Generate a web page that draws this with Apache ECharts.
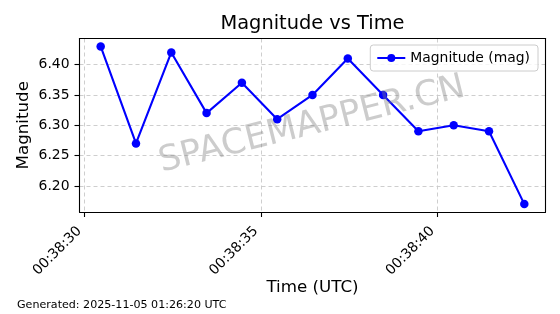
<!DOCTYPE html>
<html>
<head>
<meta charset="utf-8">
<script src="https://cdn.jsdelivr.net/npm/echarts@6/dist/echarts.min.js"></script>
<style>
html,body{margin:0;padding:0;background:#fff;}
#chart{width:560px;height:314px;}
</style>
</head>
<body>
<div id="chart"></div>
<script>
// Data
var times = ['00:38:30.46','00:38:31.46','00:38:32.46','00:38:33.46','00:38:34.46','00:38:35.46','00:38:36.46',
             '00:38:37.46','00:38:38.46','00:38:39.46','00:38:40.46','00:38:41.46','00:38:42.46'];
var magnitudes = [6.43, 6.27, 6.42, 6.32, 6.37, 6.31, 6.35, 6.41, 6.35, 6.29, 6.30, 6.29, 6.17];
var yTickLabels = ['6.20','6.25','6.30','6.35','6.40'];
var xTickLabels = ['00:38:30','00:38:35','00:38:40'];
var seriesName = 'Magnitude (mag)';
var titleText = 'Magnitude vs Time';
var footerText = 'Generated: 2025-11-05 01:26:20 UTC';
var watermark = 'SPACEMAPPER.CN';

function toSec(s){var p=s.split(':');return (+p[0])*3600+(+p[1])*60+parseFloat(p[2]);}
function fmt(v){v=Math.round(v);var h=Math.floor(v/3600),m=Math.floor((v%3600)/60),s=v%60;
  function z(n){return (n<10?'0':'')+n;} return z(h)+':'+z(m)+':'+z(s);}

var xs = times.map(toSec);
var data = xs.map(function(x,i){return [x, magnitudes[i]];});
var xMin = xs[0], xMax = xs[xs.length-1], xr = xMax-xMin;
var yMin = Math.min.apply(null,magnitudes), yMax = Math.max.apply(null,magnitudes), yr=yMax-yMin;

var FONT = 'DejaVu Sans';
var frameAxis = {axisLine:{show:true,onZero:false,lineStyle:{color:'#000',width:1.1}},axisTick:{show:false},
  axisLabel:{show:false},splitLine:{show:false}};
var chart = echarts.init(document.getElementById('chart'), null, {renderer:'canvas'});
chart.setOption({
  animation:false,
  backgroundColor:'#fff',
  textStyle:{fontFamily:FONT},
  grid:{left:79.5,right:14.5,top:38.5,bottom:102,show:false,containLabel:false},
  legend:{show:true,right:22,top:45,orient:'vertical',itemWidth:28,itemHeight:10,itemGap:4,
    padding:[6,8,6,6],borderColor:'#cccccc',borderWidth:1,borderRadius:3,backgroundColor:'rgba(255,255,255,0.8)',
    textStyle:{fontFamily:FONT,fontSize:13.9,color:'#000'},data:[seriesName]},
  xAxis:[{type:'value',min:xMin-0.05*xr,max:xMax+0.05*xr,minInterval:5,maxInterval:5,
    axisLine:{show:true,onZero:false,lineStyle:{color:'#000',width:1.1}},
    axisTick:{show:true,length:5,lineStyle:{color:'#000',width:1.1}},
    axisLabel:{rotate:45,margin:12,padding:[0,7,0,0],fontSize:13.9,color:'#000',fontFamily:FONT,showMinLabel:false,showMaxLabel:false,
      formatter:function(v){return fmt(v);}},
    splitLine:{show:true,lineStyle:{color:'#c8c8c8',type:[4,3],width:0.9}},
    name:'Time (UTC)',nameLocation:'middle',nameGap:67,nameMoveOverlap:false,
    nameTextStyle:{fontFamily:FONT,fontSize:16.7,color:'#000'}},
    Object.assign({type:'value',position:'top',min:xMin-0.05*xr,max:xMax+0.05*xr},frameAxis)],
  yAxis:[{type:'value',min:yMin-0.05*yr,max:yMax+0.05*yr,minInterval:0.05,maxInterval:0.05,
    axisLine:{show:true,onZero:false,lineStyle:{color:'#000',width:1.1}},
    axisTick:{show:true,length:5,lineStyle:{color:'#000',width:1.1}},
    axisLabel:{margin:10,fontSize:13.9,color:'#000',fontFamily:FONT,showMinLabel:false,showMaxLabel:false,
      formatter:function(v){return v.toFixed(2);}},
    splitLine:{show:true,lineStyle:{color:'#c8c8c8',type:[4,3],width:0.9}},
    name:'Magnitude',nameLocation:'middle',nameGap:47,nameRotate:90,nameMoveOverlap:false,
    nameTextStyle:{fontFamily:FONT,fontSize:16.7,color:'#000'}},
    Object.assign({type:'value',position:'right',min:yMin-0.05*yr,max:yMax+0.05*yr},frameAxis)],
  graphic:[
    {type:'text',x:312.5,y:23.5,silent:true,
      style:{text:titleText,fontFamily:FONT,fontSize:19.4,fill:'#000',align:'center',verticalAlign:'middle'}},
    {type:'text',x:312,y:125,rotation:14*Math.PI/180,z:100,silent:true,
      style:{text:watermark,fontFamily:FONT,fontSize:35,fill:'rgba(128,128,128,0.4)',align:'center',verticalAlign:'middle'}},
    {type:'text',left:17,top:300,style:{text:footerText,fontFamily:FONT,fontSize:11.1,fill:'#000'}}
  ],
  series:[{name:seriesName,type:'line',xAxisIndex:0,yAxisIndex:0,data:data,symbol:'circle',symbolSize:8.5,showSymbol:true,
    itemStyle:{color:'#0000ff'},lineStyle:{color:'#0000ff',width:2.1},z:3}]
});
</script>
</body>
</html>
